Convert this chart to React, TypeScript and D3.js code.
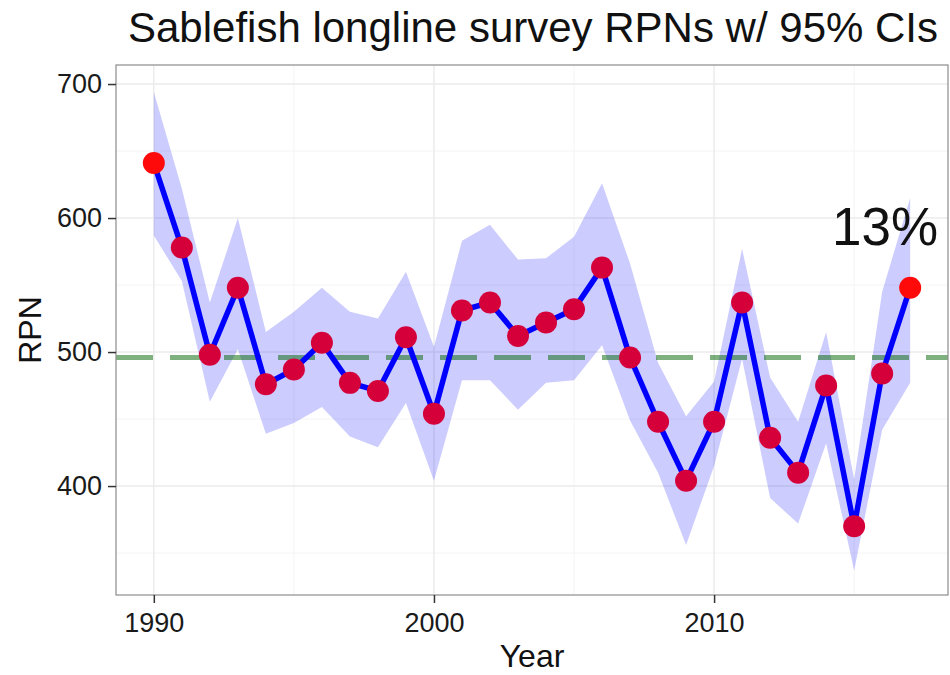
import React, { useRef, useEffect } from 'react';
import * as d3 from 'd3';

const years = [
  1990, 1991, 1992, 1993, 1994, 1995, 1996, 1997, 1998, 1999,
  2000, 2001, 2002, 2003, 2004, 2005, 2006, 2007, 2008, 2009,
  2010, 2011, 2012, 2013, 2014, 2015, 2016, 2017,
];
const rpn = [
  641, 578, 498, 548, 476, 487, 507, 477, 471, 511,
  454, 531, 537, 512, 522, 532, 563, 496, 448, 404,
  448, 537, 436, 410, 475, 370, 484, 548,
];
const upper = [
  694, 622, 537, 600, 515, 530, 548, 530, 525, 560,
  504, 583, 595, 569, 570, 586, 626, 566, 492, 452,
  478, 577, 481, 448, 515, 405, 545, 615,
];
const lower = [
  587, 553, 463, 502, 439, 447, 459, 437, 429, 462,
  404, 479, 479, 457, 477, 479, 505, 449, 410, 356,
  415, 495, 391, 372, 432, 337, 442, 477,
];
const meanRpn = 496;
const xTicks = [1990, 2000, 2010];
const xMinor = [1995, 2005, 2015];
const yTicks = [400, 500, 600, 700];
const yMinor = [350, 450, 550, 650];
const title = 'Sablefish longline survey RPNs w/ 95% CIs';
const cvLabel = '13%';

const FONT = '"Liberation Sans", Arial, Helvetica, sans-serif';

const App = () => {
  const ref = useRef(null);

  useEffect(() => {
    if (!ref.current) return;
    d3.select(ref.current).selectAll('*').remove();

    const left = 116, right = 948, top = 65, bottom = 595;
    const data = years.map((y, i) => ({ year: y, v: rpn[i], lo: lower[i], hi: upper[i] }));

    const svg = d3.select(ref.current);

    const x = d3.scaleLinear().domain([1988.65, 2018.35]).range([left, right]);
    const y = d3.scaleLinear().domain([318.7, 714.2]).range([bottom, top]);

    svg.append('rect').attr('width', 950).attr('height', 675).attr('fill', '#fff');

    // grid
    const grid = svg.append('g');
    grid.selectAll('.ym').data(yMinor).enter().append('line')
      .attr('x1', left).attr('x2', right)
      .attr('y1', d => y(d)).attr('y2', d => y(d))
      .attr('stroke', '#f4f4f4').attr('stroke-width', 1);
    grid.selectAll('.xm').data(xMinor).enter().append('line')
      .attr('y1', top).attr('y2', bottom)
      .attr('x1', d => x(d)).attr('x2', d => x(d))
      .attr('stroke', '#f4f4f4').attr('stroke-width', 1);
    grid.selectAll('.yM').data(yTicks).enter().append('line')
      .attr('x1', left).attr('x2', right)
      .attr('y1', d => y(d)).attr('y2', d => y(d))
      .attr('stroke', '#ebebeb').attr('stroke-width', 1.5);
    grid.selectAll('.xM').data(xTicks).enter().append('line')
      .attr('y1', top).attr('y2', bottom)
      .attr('x1', d => x(d)).attr('x2', d => x(d))
      .attr('stroke', '#ebebeb').attr('stroke-width', 1.5);

    // ribbon
    const area = d3.area<any>()
      .x(d => x(d.year))
      .y0(d => y(d.lo))
      .y1(d => y(d.hi));
    svg.append('path').datum(data)
      .attr('fill', 'rgb(0,0,255)').attr('fill-opacity', 0.2)
      .attr('d', area);

    // mean line
    svg.append('line')
      .attr('x1', left).attr('x2', right)
      .attr('y1', y(meanRpn)).attr('y2', y(meanRpn))
      .attr('stroke', 'rgb(0,100,0)').attr('stroke-opacity', 0.5)
      .attr('stroke-width', 5)
      .attr('stroke-dasharray', '37 17');

    const line = d3.line<any>().x(d => x(d.year)).y(d => y(d.v));
    svg.append('path').datum(data)
      .attr('fill', 'none').attr('stroke', '#0000ff')
      .attr('stroke-width', 5.5).attr('stroke-linejoin', 'round')
      .attr('d', line);

    svg.selectAll('.pt').data(data).enter().append('circle')
      .attr('cx', d => x(d.year)).attr('cy', d => y(d.v))
      .attr('r', 11)
      .attr('fill', (d, i) => (i === 0 || i === data.length - 1 ? '#ff0a0a' : '#d5003a'));

    // panel border
    svg.append('rect')
      .attr('x', left).attr('y', top)
      .attr('width', right - left).attr('height', bottom - top)
      .attr('fill', 'none').attr('stroke', '#8c8c8c').attr('stroke-width', 1.2);

    // axes
    const yAxis = d3.axisLeft(y).tickValues(yTicks).tickSize(8).tickPadding(6);
    const gy = svg.append('g').attr('transform', `translate(${left},0)`).call(yAxis);
    const xAxis = d3.axisBottom(x).tickValues(xTicks).tickFormat(d3.format('d')).tickSize(8).tickPadding(10);
    const gx = svg.append('g').attr('transform', `translate(0,${bottom})`).call(xAxis);
    [gx, gy].forEach(g => {
      g.select('.domain').remove();
      g.selectAll('line').attr('stroke', '#333').attr('stroke-width', 1.5);
      g.selectAll('text').attr('fill', '#1a1a1a').attr('font-size', 27).attr('font-family', FONT);
    });

    svg.append('text')
      .attr('x', (left + right) / 2 + 1).attr('y', 42)
      .attr('text-anchor', 'middle')
      .attr('font-family', FONT).attr('font-size', 42).attr('fill', '#111')
      .text(title);

    svg.append('text')
      .attr('x', (left + right) / 2).attr('y', 667)
      .attr('text-anchor', 'middle')
      .attr('font-family', FONT).attr('font-size', 32).attr('fill', '#111')
      .text('Year');

    svg.append('text')
      .attr('transform', `translate(41,${(top + bottom) / 2}) rotate(-90)`)
      .attr('text-anchor', 'middle')
      .attr('font-family', FONT).attr('font-size', 32).attr('fill', '#111')
      .text('RPN');

    svg.append('text')
      .attr('x', 832).attr('y', 245)
      .attr('font-family', FONT).attr('font-size', 53).attr('fill', '#111')
      .text(cvLabel);
  }, []);

  return (
    <svg
      ref={ref}
      width={950}
      height={675}
      style={{ position: 'absolute', left: 0, top: 0, display: 'block' }}
    />
  );
};

export default App;
